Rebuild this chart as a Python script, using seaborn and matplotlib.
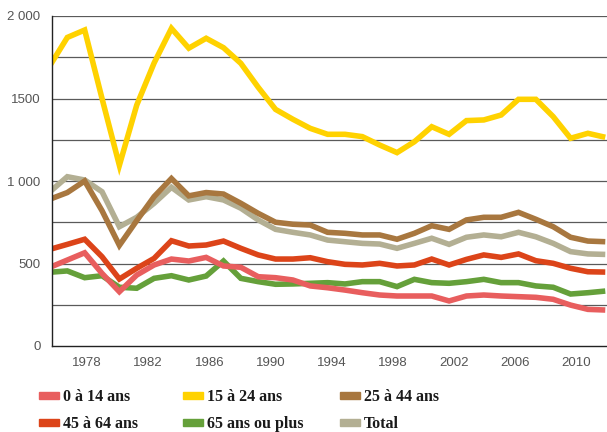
import pandas as pd
import matplotlib
matplotlib.use('Agg')
import matplotlib.pyplot as plt
from matplotlib.patches import Rectangle
import seaborn as sns

# values, 33 points from left to right
ages_0_14 = [477, 521, 565, 440, 329, 430, 491, 527, 515, 537, 485, 477, 420, 414, 400, 364, 353,
             339, 323, 309, 303, 303, 303, 273, 303, 309, 303, 299, 295, 283, 248, 222, 218]
ages_15_24 = [1700, 1870, 1915, 1500, 1095, 1460, 1715, 1925, 1805, 1865, 1808, 1713, 1568, 1434, 1374, 1319, 1283,
              1283, 1269, 1218, 1172, 1238, 1329, 1283, 1366, 1370, 1400, 1495, 1495, 1390, 1259, 1289, 1265]
ages_25_44 = [890, 930, 1000, 820, 610, 760, 905, 1015, 910, 930, 921, 865, 804, 750, 738, 733, 689,
              683, 673, 673, 647, 683, 729, 707, 764, 780, 780, 810, 768, 723, 659, 636, 632]
ages_45_64 = [586, 616, 647, 541, 406, 471, 531, 638, 606, 612, 636, 592, 552, 527, 527, 535, 511,
              495, 491, 501, 485, 491, 527, 491, 525, 552, 537, 558, 517, 501, 471, 450, 448]
ages_65_plus = [447, 455, 414, 426, 356, 350, 410, 426, 400, 424, 515, 410, 390, 374, 376, 380, 384,
                376, 390, 390, 360, 404, 384, 380, 390, 404, 384, 384, 364, 356, 315, 323, 333]
total = [935, 1026, 1006, 935, 723, 780, 865, 962, 885, 905, 885, 835, 764, 707, 689, 673, 642,
         632, 622, 618, 592, 622, 653, 616, 659, 673, 662, 689, 662, 622, 572, 558, 555]

series_names = ['0 à 14 ans', '15 à 24 ans', '25 à 44 ans', '45 à 64 ans', '65 ans ou plus', 'Total']
series_values = [ages_0_14, ages_15_24, ages_25_44, ages_45_64, ages_65_plus, total]
series_colors = ['#E85E5E', '#FFD200', '#A8773F', '#DC4419', '#65A03A', '#B3AF93']

xtick_labels = ['1978', '1982', '1986', '1990', '1994', '1998', '2002', '2006', '2010']
ytick_values = [0, 500, 1000, 1500, 2000]
ytick_labels = ['0', '500', '1 000', '1500', '2 000']

# long form table for seaborn
rows = []
for name, vals in zip(series_names, series_values):
    for i, v in enumerate(vals):
        rows.append({'point': i, 'valeur': v, 'serie': name})
df = pd.DataFrame(rows)

sns.set_style('white')
plt.rcParams['font.family'] = ['Liberation Sans', 'DejaVu Sans']

W, H = 607, 432
fig = plt.figure(figsize=(W / 100, H / 100), dpi=100)
ax = fig.add_axes([51.7 / W, 86 / H, (W - 51.7) / W, 330 / H])

# drawing order: later on top
draw_order = ['Total', '25 à 44 ans', '65 ans ou plus', '0 à 14 ans', '45 à 64 ans', '15 à 24 ans']
palette = dict(zip(series_names, series_colors))
sns.lineplot(data=df, x='point', y='valeur', hue='serie', hue_order=draw_order,
             palette=palette, linewidth=4.0, legend=False, ax=ax,
             solid_joinstyle='miter', solid_capstyle='butt')

ax.set_xlim(0.1, 31.83)
ax.set_ylim(0, 2000)

# grid every 250
for g in range(250, 2001, 250):
    ax.axhline(g, color='#5a5a5a', linewidth=0.9, zorder=0)

for s in ['top', 'right']:
    ax.spines[s].set_visible(False)
for s in ['left', 'bottom']:
    ax.spines[s].set_color('#222222')
    ax.spines[s].set_linewidth(1.0)

ax.set_yticks(ytick_values)
ax.set_yticklabels(ytick_labels)
ax.tick_params(axis='y', direction='out', length=4, width=1, color='#222222',
               labelsize=9.5, labelcolor='#555555', pad=4)

# separators between year groups, labels in between
step = 3.525
first = 0.375
seps = [first + step * k for k in range(1, 10)]
mids = [first + step * (k + 0.5) for k in range(len(xtick_labels))]
ax.set_xticks(seps)
ax.set_xticklabels([])
ax.set_xticks(mids, minor=True)
ax.set_xticklabels(xtick_labels, minor=True)
ax.tick_params(axis='x', which='major', direction='out', length=16, width=1, color='#222222')
ax.tick_params(axis='x', which='minor', length=0, labelsize=9.5, labelcolor='#555555', pad=8)
ax.set_xlabel('')
ax.set_ylabel('')

# legend drawn by hand, 2 rows x 3 columns
col_x = [39, 183, 340]
row_y = [395, 422]
legend_layout = [['0 à 14 ans', '15 à 24 ans', '25 à 44 ans'],
                 ['45 à 64 ans', '65 ans ou plus', 'Total']]
for r, row in enumerate(legend_layout):
    for c, name in enumerate(row):
        x0 = col_x[c]
        yc = row_y[r]
        fig.patches.append(Rectangle((x0 / W, (H - yc - 3.5) / H), 20 / W, 7 / H,
                                     transform=fig.transFigure, color=palette[name]))
        fig.text((x0 + 24) / W, (H - yc) / H, name, ha='left', va='center_baseline',
                 fontsize=11.5, fontweight='bold', family=['Liberation Serif', 'DejaVu Serif'],
                 color='#1a1a1a')

fig.savefig('out.png', dpi=100)
